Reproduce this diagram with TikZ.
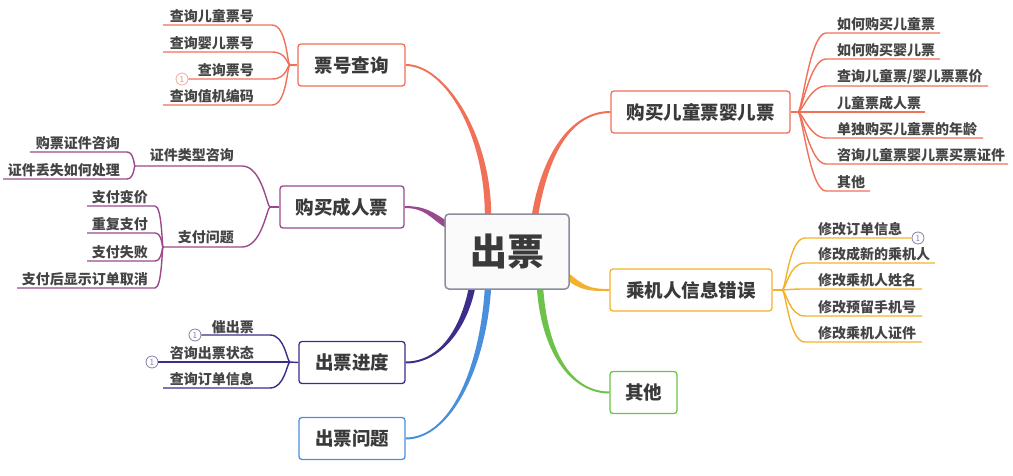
\documentclass[tikz,border=0pt]{standalone}
\usepackage{fontspec}
\newfontfamily\cjk{Noto Sans CJK SC}
\usetikzlibrary{calc}
\pgfdeclarelayer{bg}
\pgfsetlayers{bg,main}
\definecolor{cred}{HTML}{F07058}
\definecolor{cpur}{HTML}{9A4A8C}
\definecolor{corg}{HTML}{F2B22E}
\definecolor{cgrn}{HTML}{6CC24A}
\definecolor{cind}{HTML}{3E2C8A}
\definecolor{cblu}{HTML}{4A8FDB}
\definecolor{cgray}{HTML}{8A8E9C}
\definecolor{ctxt}{HTML}{3A3A3A}
\definecolor{cleaf}{HTML}{444444}
\definecolor{ccirc}{HTML}{8080A8}
\tikzset{
 rootbox/.style={draw=cgray, line width=1.5pt, rounded corners=4pt, fill=gray!4, inner sep=0pt, text=ctxt, font=\cjk\bfseries\fontsize{37}{40}\selectfont, minimum width=124pt, minimum height=75pt},
 mainbox/.style={draw, line width=1.3pt, rounded corners=3pt, fill=white, inner sep=0pt, text=ctxt, font=\cjk\bfseries\fontsize{18.5}{20}\selectfont, minimum height=42pt},
 leaf/.style={inner sep=0pt, text=cleaf, font=\cjk\bfseries\fontsize{14}{16}\selectfont},
 sub/.style={line width=1.4pt},
 numc/.style={circle, draw=ccirc, fill=white, line width=0.8pt, inner sep=0pt, minimum size=12pt, text=ccirc, font=\sffamily\fontsize{9}{10}\selectfont},
}
% tapered connector: color, start, ctrl offset from start, ctrl offset from end, end, half-width vector at start, at end
\newcommand\tconn[7]{\fill[#1] ($(#2)+#6$) .. controls ($(#2)+#6+#3$) and ($(#5)+#7+#4$) .. ($(#5)+#7$) -- ($(#5)-#7$) .. controls ($(#5)-#7+#4$) and ($(#2)-#6+#3$) .. ($(#2)-#6$) -- cycle;}
\begin{document}
\begin{tikzpicture}[x=1pt,y=-1pt]
\useasboundingbox (0,0) rectangle (1013,475);
% root and main topics
\node[rootbox] (root) at (507,251.5) {出票};
\node[mainbox, draw=cred, minimum width=107pt] (m1) at (351.5,65) {票号查询};
\node[mainbox, draw=cred, minimum width=179pt] (m2) at (700.5,112) {购买儿童票婴儿票};
\node[mainbox, draw=cpur, minimum width=124pt] (m3) at (342,207) {购买成人票};
\node[mainbox, draw=corg, minimum width=162pt] (m4) at (691,290) {乘机人信息错误};
\node[mainbox, draw=cgrn, minimum width=67pt] (m5) at (643.5,392.5) {其他};
\node[mainbox, draw=cind, minimum width=106pt] (m6) at (352,362.5) {出票进度};
\node[mainbox, draw=cblu, minimum width=106pt] (m7) at (352,438.5) {出票问题};
\coordinate (r1) at ($(root.north)+(-19,2)$);
\coordinate (r2) at ($(root.north)+(28,2)$);
\coordinate (r3) at ($(root.west)+(2,-27)$);
\coordinate (r4) at ($(root.east)+(-2,25)$);
\coordinate (r5) at ($(root.south)+(33,-2)$);
\coordinate (r6) at ($(root.south)+(-35,-2)$);
\coordinate (r7) at ($(root.south)+(-19,-2)$);
\begin{pgfonlayer}{bg}
\tconn{cred}{m1.east}{(40,0)}{(0,-80)}{r1}{(0,1)}{(-3.2,0)}
\tconn{cred}{r2}{(10,-60)}{(-40,0)}{m2.west}{(3.15,0.5)}{(0,1)}
\tconn{cpur}{m3.east}{(20,0)}{(-15,-10)}{r3}{(0,1)}{(-1.75,2.65)}
\tconn{corg}{r4}{(15,12)}{(-20,0)}{m4.west}{(-1.95,2.45)}{(0,1)}
\tconn{cgrn}{r5}{(5,70)}{(-35,0)}{m5.west}{(-3.15,0.2)}{(0,1)}
\tconn{cind}{m6.east}{(35,0)}{(-8,40)}{r6}{(0,1)}{(3.1,0.6)}
\tconn{cblu}{m7.east}{(45,0)}{(-5,80)}{r7}{(0,1)}{(3.15,0.2)}
\end{pgfonlayer}
% ---- 票号查询
\coordinate (j1) at (290,65);
\draw[sub,cred] (m1.west) -- (j1);
\foreach \t/\y/\l in {查询儿童票号/25/163, 查询婴儿票号/52/163, 查询值机编码/105/163}{
  \node[leaf, anchor=east] (a\y) at (254,\y-9) {\t};
  \coordinate (al\y) at (\l,\y);
  \coordinate (ar\y) at (272,\y);
  \draw[sub,cred] (al\y) -- (ar\y) .. controls +(15,0) and +(-3,0) .. (j1);
}
\node[leaf, anchor=east] (a79) at (254,70) {查询票号};
\node[numc, draw=cred!60, text=cred!80] (c0) at (182,79) {1};
\coordinate (ar79) at (272,79);
\draw[sub,cred] (c0.east) -- (ar79) .. controls +(15,0) and +(-3,0) .. (j1);
% ---- 购买成人票
\coordinate (j2) at (270,207);
\draw[sub,cpur] (m3.west) -- (j2);
\node[leaf, anchor=east] (b1) at (234,155) {证件类型咨询};
\coordinate (q1l) at (135,166);
\coordinate (q1r) at (242,166);
\draw[sub,cpur] (q1l) -- (q1r) .. controls +(20,0) and +(-3,0) .. (j2);
\node[leaf, anchor=east] (b2) at (234,237) {支付问题};
\coordinate (q2l) at (163,247);
\coordinate (q2r) at (242,247);
\draw[sub,cpur] (q2l) -- (q2r) .. controls +(20,0) and +(-3,0) .. (j2);
\foreach \t/\y/\l in {购票证件咨询/152/30, 证件丢失如何处理/179/3}{
  \node[leaf, anchor=east] (b\y) at (120,\y-9) {\t};
  \coordinate (bl\y) at (\l,\y);
  \coordinate (br\y) at (127,\y);
  \draw[sub,cpur] (bl\y) -- (br\y) .. controls +(7,0) and +(-1,0) .. (q1l);
}
\foreach \t/\y/\l in {支付变价/206/87, 重复支付/233/87, 支付失败/261/87, 支付后显示订单取消/288/17}{
  \node[leaf, anchor=east] (b\y) at (148,\y-9) {\t};
  \coordinate (bl\y) at (\l,\y);
  \coordinate (br\y) at (155,\y);
  \draw[sub,cpur] (bl\y) -- (br\y) .. controls +(7,0) and +(-1,0) .. (q2l);
}
% ---- 出票进度
\coordinate (j3) at (290,362);
\draw[sub,cind] (m6.west) -- (j3);
\node[leaf, anchor=east] (d1) at (254,327) {催出票};
\node[numc] (c1) at (195,335) {1};
\coordinate (d1r) at (270,335);
\draw[sub,cind] (c1.east) -- (d1r) .. controls +(15,0) and +(-3,0) .. (j3);
\node[leaf, anchor=east] (d2) at (254,353) {咨询出票状态};
\node[numc] (c2) at (152,362) {1};
\draw[sub,cind] (c2.east) -- (j3);
\node[leaf, anchor=east] (d3) at (254,379) {查询订单信息};
\coordinate (d3l) at (163,388);
\coordinate (d3r) at (270,388);
\draw[sub,cind] (d3l) -- (d3r) .. controls +(15,0) and +(-3,0) .. (j3);
% ---- 购买儿童票婴儿票
\coordinate (j4) at (798,112);
\draw[sub,cred] (m2.east) -- (j4);
\foreach \t/\y/\r in {如何购买儿童票/33/940, 如何购买婴儿票/59/940, {查询儿童票/婴儿票票价}/86/988, 儿童票成人票/112/925, 单独购买儿童票的年龄/138/983, 咨询儿童票婴儿票买票证件/164/1008, 其他/191/870}{
  \node[leaf, anchor=west] (e\y) at (837,\y-9) {\t};
  \coordinate (el\y) at (826,\y);
  \coordinate (er\y) at (\r,\y);
  \draw[sub,cred] (j4) .. controls +(4,0) and +(-16,0) .. (el\y) -- (er\y);
}
% ---- 乘机人信息错误
\coordinate (j5) at (782,290);
\draw[sub,corg] (m4.east) -- (j5);
\node[leaf, anchor=west] (f238) at (818,229) {修改订单信息};
\node[numc] (c3) at (918,238) {1};
\coordinate (fl238) at (805,238);
\draw[sub,corg] (j5) .. controls +(4,0) and +(-16,0) .. (fl238) -- (c3.west);
\foreach \t/\y/\r in {修改成新的乘机人/263/935, 修改乘机人姓名/289/922, 修改预留手机号/316/922, 修改乘机人证件/342/922}{
  \node[leaf, anchor=west] (f\y) at (818,\y-9) {\t};
  \coordinate (fl\y) at (805,\y);
  \coordinate (fr\y) at (\r,\y);
  \draw[sub,corg] (j5) .. controls +(4,0) and +(-16,0) .. (fl\y) -- (fr\y);
}
\end{tikzpicture}
\end{document}
